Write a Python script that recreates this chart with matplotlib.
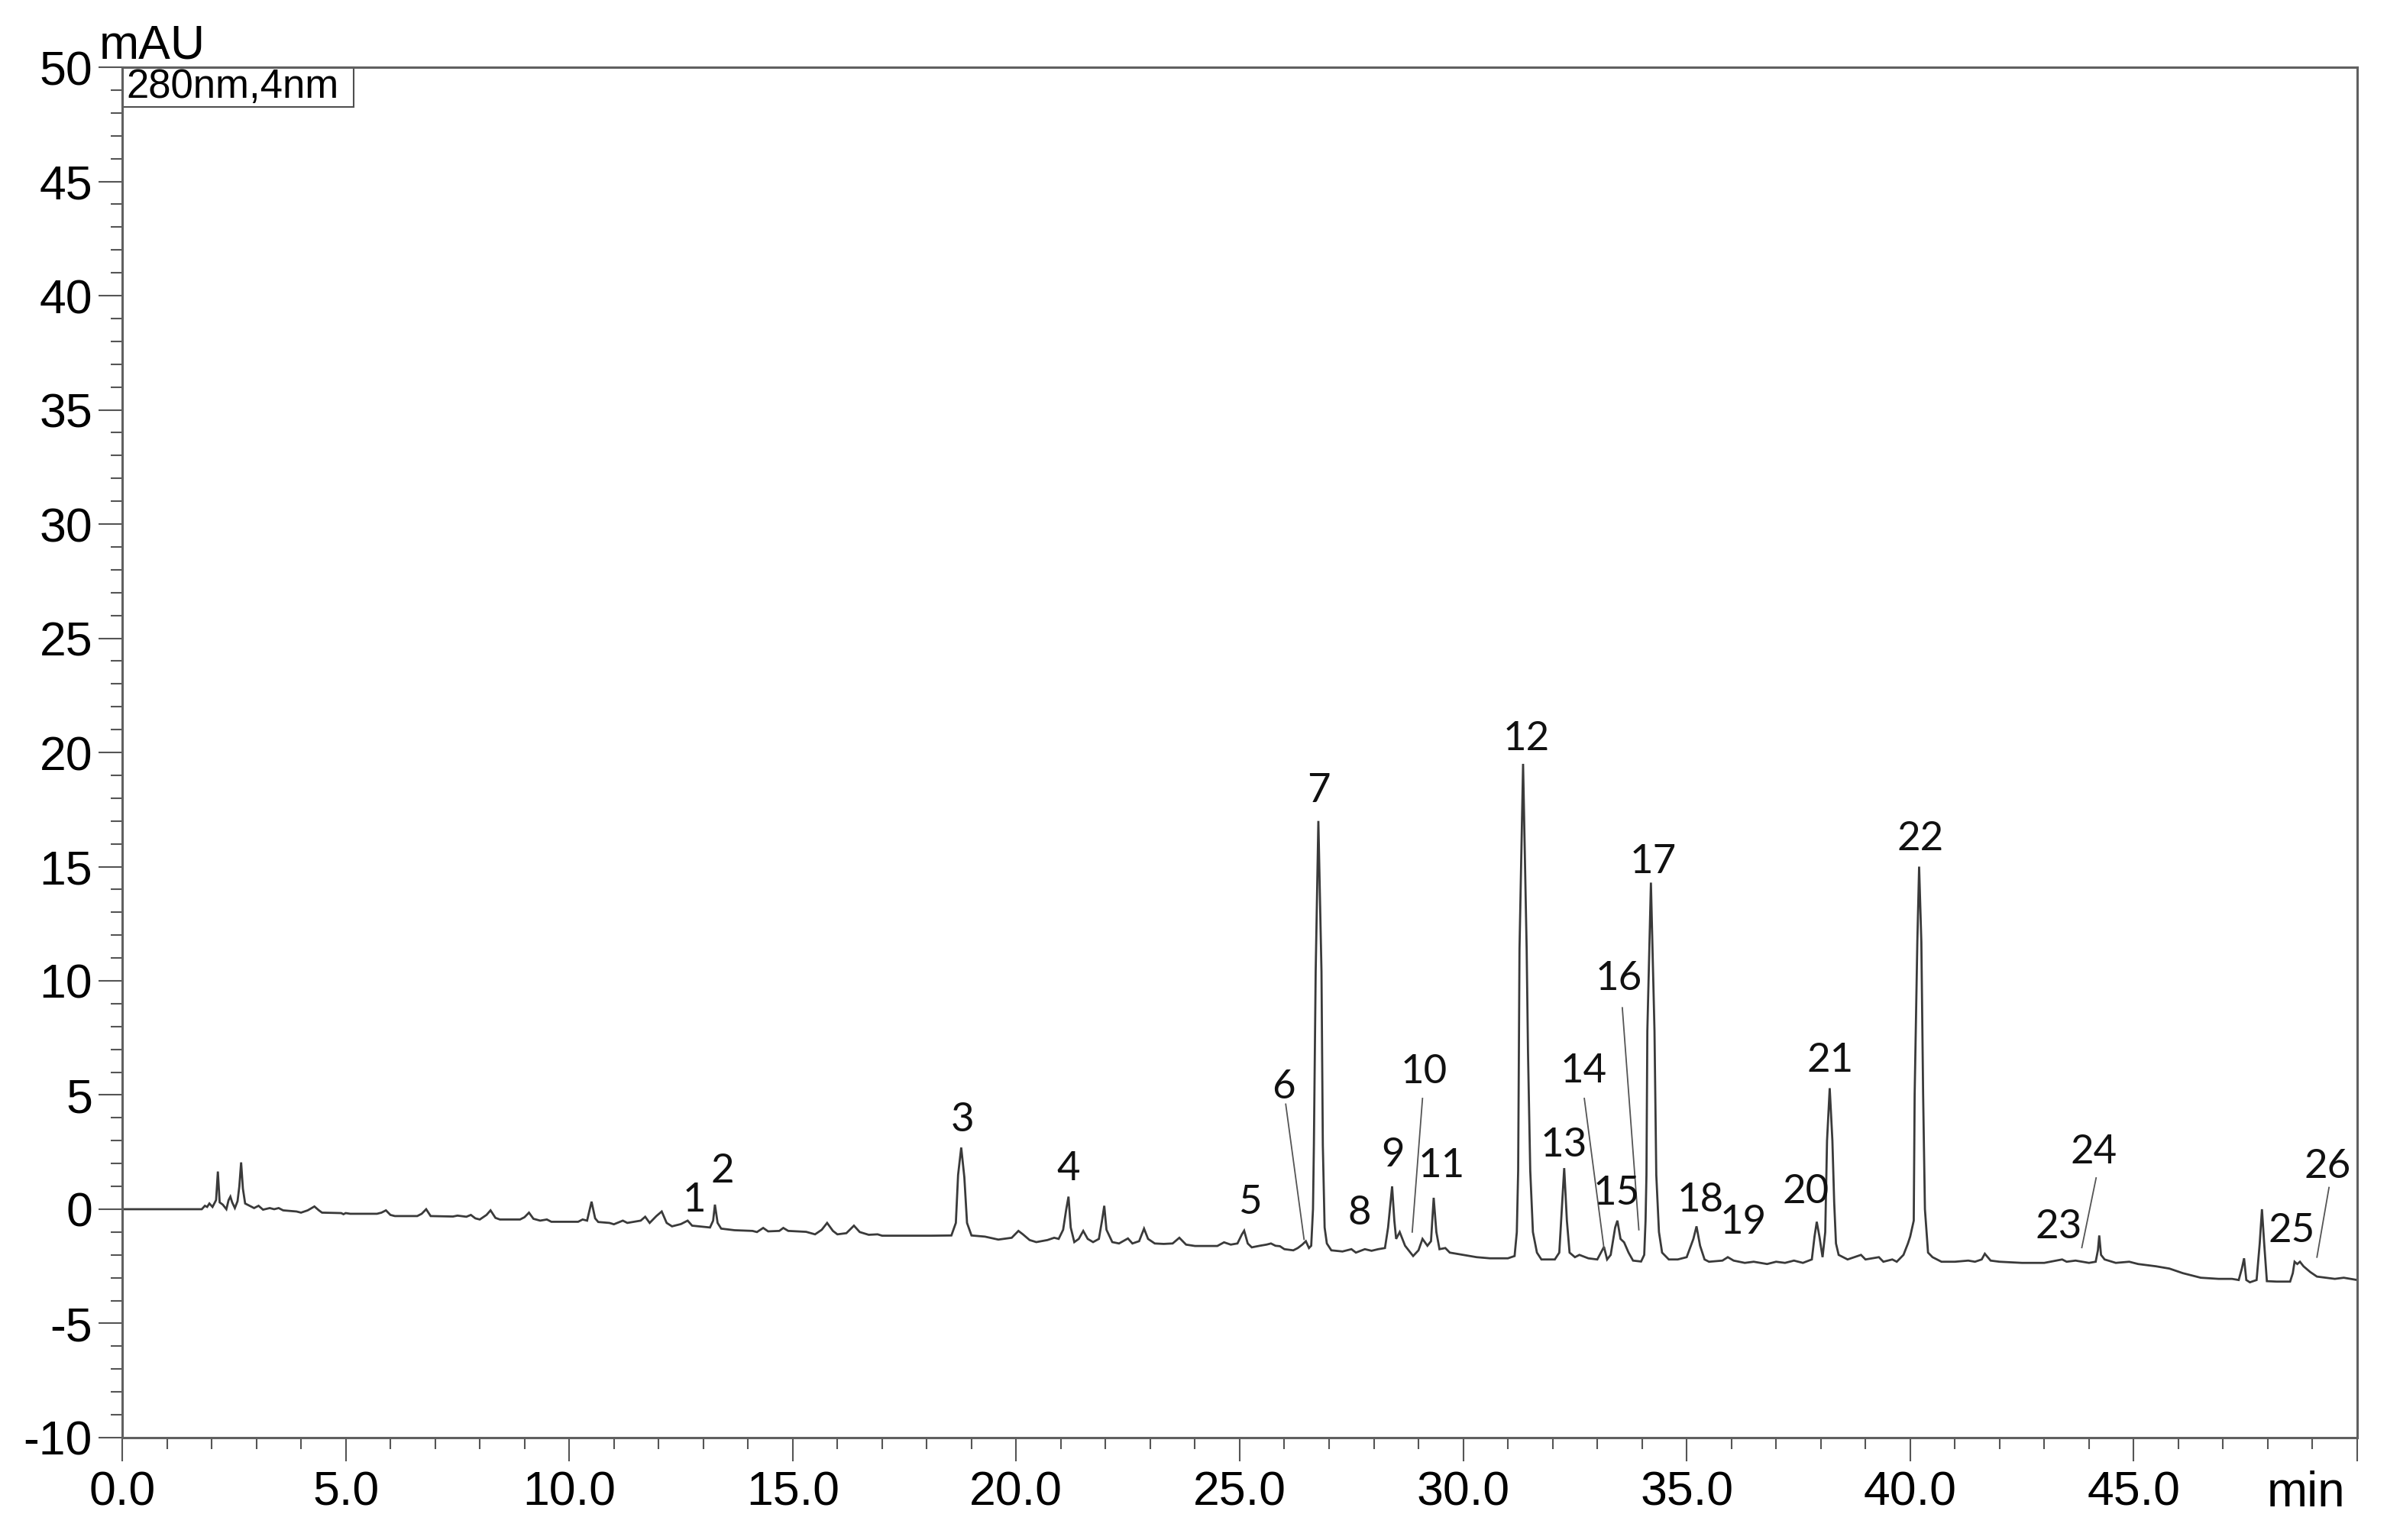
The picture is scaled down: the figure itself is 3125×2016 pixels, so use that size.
#!/usr/bin/env python3
# HPLC chromatogram at 280 nm, peaks 1-26 labelled

import matplotlib
matplotlib.use('Agg')
import matplotlib.pyplot as plt
from matplotlib.patches import Rectangle

# trace vertices (time in min, signal in mAU)
time_min = [
    0.0, 1.78, 1.85, 1.9, 1.95, 2.02, 2.1, 2.14, 2.18, 2.25, 2.33, 2.38, 2.42, 2.46, 2.52,
    2.58, 2.62, 2.66, 2.7, 2.75, 2.85, 2.95, 3.05, 3.15, 3.3, 3.4, 3.5, 3.6, 3.9, 4.0,
    4.15, 4.3, 4.4, 4.47, 4.9, 4.95, 5.0, 5.1, 5.7, 5.8, 5.9, 6.0, 6.1, 6.6, 6.7,
    6.8, 6.9, 7.4, 7.5, 7.7, 7.8, 7.9, 8.0, 8.15, 8.24, 8.35, 8.45, 8.9, 9.0, 9.1,
    9.2, 9.35, 9.5, 9.6, 10.2, 10.3, 10.4, 10.5, 10.58, 10.65, 10.9, 11.0, 11.2, 11.3, 11.6,
    11.7, 11.8, 11.95, 12.07, 12.18, 12.3, 12.5, 12.65, 12.75, 12.9, 13.15, 13.22, 13.26, 13.32, 13.4,
    13.7, 14.1, 14.2, 14.34, 14.45, 14.7, 14.79, 14.9, 15.3, 15.5, 15.65, 15.77, 15.9, 16.0, 16.2,
    16.37, 16.5, 16.7, 16.9, 17.0, 18.1, 18.55, 18.65, 18.7, 18.77, 18.84, 18.9, 19.0, 19.3, 19.6,
    19.9, 20.05, 20.15, 20.3, 20.45, 20.7, 20.85, 20.95, 21.05, 21.12, 21.17, 21.22, 21.3, 21.4, 21.5,
    21.6, 21.72, 21.85, 21.92, 21.97, 22.02, 22.15, 22.3, 22.5, 22.6, 22.75, 22.86, 22.95, 23.1, 23.3,
    23.5, 23.65, 23.8, 24.0, 24.5, 24.65, 24.8, 24.95, 25.05, 25.1, 25.18, 25.27, 25.45, 25.6, 25.7,
    25.8, 25.9, 26.0, 26.2, 26.3, 26.4, 26.48, 26.55, 26.6, 26.64, 26.66, 26.7, 26.76, 26.83, 26.86,
    26.9, 26.95, 27.05, 27.3, 27.5, 27.6, 27.8, 27.95, 28.1, 28.25, 28.32, 28.36, 28.41, 28.46, 28.5,
    28.58, 28.7, 28.88, 29.0, 29.09, 29.2, 29.28, 29.34, 29.4, 29.47, 29.6, 29.7, 30.0, 30.3, 30.6,
    31.0, 31.15, 31.2, 31.23, 31.26, 31.34, 31.42, 31.45, 31.5, 31.56, 31.65, 31.75, 32.05, 32.15, 32.2,
    32.26, 32.32, 32.38, 32.5, 32.6, 32.8, 33.0, 33.15, 33.22, 33.3, 33.4, 33.45, 33.52, 33.6, 33.7,
    33.8, 33.98, 34.05, 34.08, 34.1, 34.12, 34.2, 34.28, 34.32, 34.38, 34.45, 34.6, 34.8, 35.0, 35.15,
    35.22, 35.3, 35.4, 35.5, 35.8, 35.92, 36.05, 36.3, 36.5, 36.8, 37.0, 37.2, 37.4, 37.6, 37.8,
    37.86, 37.91, 37.97, 38.04, 38.1, 38.14, 38.2, 38.26, 38.3, 38.34, 38.4, 38.6, 38.9, 39.0, 39.3,
    39.4, 39.6, 39.7, 39.85, 39.95, 40.0, 40.08, 40.1, 40.16, 40.2, 40.25, 40.29, 40.33, 40.4, 40.5,
    40.7, 41.0, 41.3, 41.45, 41.6, 41.67, 41.8, 42.0, 42.5, 43.0, 43.4, 43.5, 43.7, 44.0, 44.15,
    44.2, 44.23, 44.27, 44.35, 44.6, 44.9, 45.1, 45.5, 45.8, 46.1, 46.5, 46.9, 47.2, 47.35, 47.42,
    47.47, 47.52, 47.6, 47.75, 47.82, 47.87, 47.92, 47.98, 48.2, 48.5, 48.56, 48.6, 48.66, 48.72, 48.8,
    48.95, 49.1, 49.3, 49.5, 49.7, 50.0,
]
signal_mau = [
    0.0, 0.0, 0.15, 0.1, 0.25, 0.1, 0.4, 1.65, 0.3, 0.2, 0.0, 0.4, 0.55, 0.3, 0.05,
    0.35, 1.0, 2.05, 0.9, 0.25, 0.15, 0.05, 0.15, -0.02, 0.05, 0.0, 0.05, -0.05, -0.1, -0.15,
    -0.05, 0.12, -0.05, -0.15, -0.17, -0.22, -0.17, -0.2, -0.2, -0.15, -0.05, -0.25, -0.3, -0.3, -0.2,
    0.0, -0.3, -0.32, -0.28, -0.33, -0.25, -0.4, -0.45, -0.25, -0.05, -0.38, -0.45, -0.45, -0.35, -0.15,
    -0.42, -0.5, -0.45, -0.55, -0.55, -0.45, -0.5, 0.33, -0.4, -0.56, -0.6, -0.66, -0.5, -0.6, -0.5,
    -0.33, -0.6, -0.3, -0.1, -0.6, -0.75, -0.65, -0.5, -0.72, -0.75, -0.8, -0.5, 0.2, -0.6, -0.85,
    -0.92, -0.95, -1.0, -0.82, -0.97, -0.95, -0.82, -0.95, -0.99, -1.1, -0.9, -0.6, -0.95, -1.1, -1.05,
    -0.72, -1.0, -1.12, -1.1, -1.16, -1.16, -1.15, -0.6, 1.5, 2.7, 1.4, -0.6, -1.15, -1.2, -1.33,
    -1.25, -0.95, -1.1, -1.35, -1.44, -1.35, -1.25, -1.3, -0.9, 0.0, 0.55, -0.8, -1.44, -1.3, -0.95,
    -1.3, -1.44, -1.3, -0.5, 0.15, -0.9, -1.44, -1.5, -1.28, -1.5, -1.4, -0.85, -1.3, -1.5, -1.52,
    -1.5, -1.25, -1.55, -1.61, -1.61, -1.45, -1.55, -1.5, -1.1, -0.94, -1.5, -1.67, -1.6, -1.55, -1.5,
    -1.6, -1.62, -1.75, -1.8, -1.7, -1.55, -1.4, -1.7, -1.6, 0.0, 2.8, 10.4, 17.0, 10.4, 2.8,
    -0.8, -1.5, -1.8, -1.85, -1.75, -1.9, -1.75, -1.82, -1.75, -1.7, -0.8, 0.0, 1.0, -0.5, -1.3,
    -1.0, -1.6, -2.05, -1.8, -1.3, -1.6, -1.4, 0.5, -1.0, -1.75, -1.7, -1.9, -2.0, -2.1, -2.15,
    -2.15, -2.05, -1.0, 1.7, 11.4, 19.5, 11.4, 6.9, 1.7, -1.0, -1.9, -2.2, -2.2, -1.9, -0.2,
    1.8, -0.5, -1.9, -2.1, -2.0, -2.15, -2.2, -1.65, -2.2, -2.0, -0.8, -0.5, -1.3, -1.45, -1.9,
    -2.25, -2.29, -2.0, -0.5, 1.5, 7.8, 14.3, 7.8, 1.5, -1.0, -1.9, -2.2, -2.2, -2.1, -1.3,
    -0.75, -1.6, -2.2, -2.3, -2.25, -2.1, -2.25, -2.35, -2.3, -2.4, -2.3, -2.35, -2.25, -2.35, -2.2,
    -1.2, -0.55, -1.2, -2.1, -1.0, 3.0, 5.3, 3.0, 0.3, -1.5, -2.0, -2.2, -2.0, -2.2, -2.1,
    -2.3, -2.2, -2.3, -2.0, -1.5, -1.2, -0.5, 5.0, 11.7, 15.0, 11.7, 5.0, 0.0, -1.9, -2.1,
    -2.3, -2.3, -2.25, -2.3, -2.2, -1.95, -2.25, -2.3, -2.35, -2.35, -2.2, -2.3, -2.25, -2.35, -2.3,
    -1.8, -1.15, -2.0, -2.2, -2.35, -2.3, -2.4, -2.5, -2.6, -2.8, -3.0, -3.05, -3.05, -3.1, -2.6,
    -2.15, -3.1, -3.2, -3.1, -1.5, 0.0, -1.5, -3.15, -3.17, -3.17, -2.8, -2.3, -2.4, -2.3, -2.5,
    -2.75, -2.95, -3.0, -3.05, -3.0, -3.1,
]

# peak labels and where they sit (min, mAU)
peak_ids = [str(i) for i in range(1, 27)]
label_t = [12.8, 13.42, 18.8, 21.17, 25.22, 25.98, 26.76, 27.68, 28.42, 29.13, 29.52, 31.41, 32.25,
           32.7, 33.43, 33.48, 34.25, 35.3, 36.27, 37.66, 38.22, 40.23, 43.33, 44.1, 48.53, 49.34]
label_v = [0.4, 1.65, 3.9, 1.74, 0.28, 5.35, 18.3, -0.2, 2.35, 6.0, 1.9, 20.6, 2.8,
           6.05, 0.7, 10.1, 15.2, 0.4, -0.6, 0.75, 6.5, 16.2, -0.8, 2.5, -0.95, 1.87]

# slanted leader lines: (t_start, v_start, t_end, v_end)
leaders = [
    (26.03, 4.6, 26.44, -1.32),
    (29.09, 4.85, 28.86, -1.0),
    (32.71, 4.85, 33.15, -1.72),
    (33.56, 8.82, 33.93, -0.9),
    (44.16, 1.37, 43.84, -1.68),
    (49.37, 0.95, 49.1, -2.1),
]

x_major = [0, 5, 10, 15, 20, 25, 30, 35, 40, 45, 50]
x_labels = ['0.0', '5.0', '10.0', '15.0', '20.0', '25.0', '30.0', '35.0', '40.0', '45.0', '']
y_major = [-10, -5, 0, 5, 10, 15, 20, 25, 30, 35, 40, 45, 50]
y_labels = [str(v) for v in y_major]


def main():
    fig = plt.figure(figsize=(31.25, 20.16), dpi=100)
    ax = fig.add_axes([0.0512, 0.0665, 0.9363, 0.8898])

    ax.plot(time_min, signal_mau, color='#3a3a3a', lw=2.0, solid_joinstyle='miter')

    for name, t, v in zip(peak_ids, label_t, label_v):
        ax.text(t, v, name, fontsize=38, family='Lato', ha='center', va='center', color='#111111')
    for t0, v0, t1, v1 in leaders:
        ax.plot([t0, t1], [v0, v1], color='#555555', lw=1.3)

    ax.set_xlim(0, 50)
    ax.set_ylim(-10, 50)
    ax.set_xticks(x_major)
    ax.set_xticklabels(x_labels)
    ax.set_xticks(range(0, 51), minor=True)
    ax.set_yticks(y_major)
    ax.set_yticklabels(y_labels)
    ax.set_yticks(range(-10, 51), minor=True)

    ax.tick_params(which='major', direction='out', length=22, width=1.5, color='#555555',
                   labelsize=45, pad=6)
    ax.tick_params(which='minor', direction='out', length=11, width=1.5, color='#555555')
    ax.tick_params(axis='x', which='major', pad=9)
    for lbl in ax.get_xticklabels() + ax.get_yticklabels():
        lbl.set_family('Liberation Sans')

    for sp in ax.spines.values():
        sp.set_color('#606060')
        sp.set_linewidth(2.2)

    # axis units
    ax.annotate('mAU', xy=(0, 1), xycoords='axes fraction', xytext=(-22, 8),
                textcoords='offset points', ha='left', va='baseline',
                fontsize=45, family='Liberation Sans')
    ax.annotate('min', xy=(48.85, 0), xycoords=('data', 'axes fraction'), xytext=(0, -31),
                textcoords='offset points', ha='center', va='top',
                fontsize=46, family='Liberation Sans')

    # detector channel box
    ax.add_patch(Rectangle((0, 0.971), 0.1036, 0.029, transform=ax.transAxes,
                           fill=False, edgecolor='#505050', lw=1.5, clip_on=False))
    ax.text(0.002, 0.9855, '280nm,4nm', transform=ax.transAxes, ha='left', va='center',
            fontsize=38, family='Liberation Sans')

    fig.savefig('out.png', dpi=100, facecolor='white')


if __name__ == "__main__":
    main()
